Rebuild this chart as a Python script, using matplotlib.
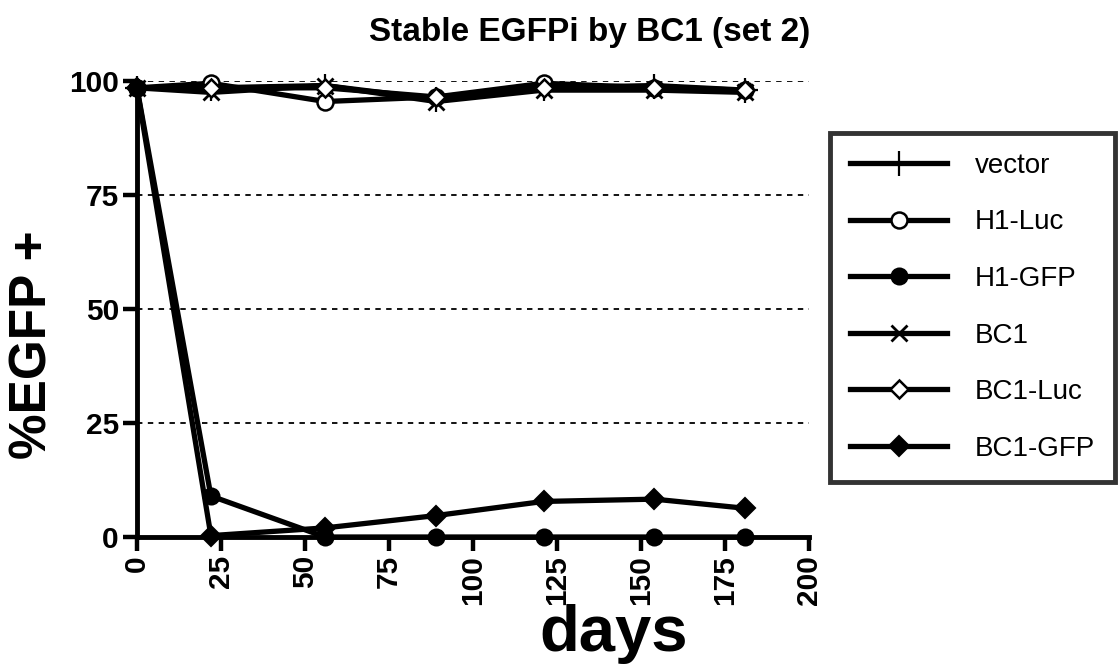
import matplotlib
matplotlib.use("Agg")
import matplotlib.pyplot as plt

plt.rcParams['font.family'] = ['Liberation Sans', 'DejaVu Sans']

days = [0, 22, 56, 89, 121, 154, 181]
vector = [98.5, 98.5, 99, 96, 98.5, 99, 98]
h1_luc = [98.5, 99.5, 95.5, 96.5, 99.5, 98.5, 98]
h1_gfp = [98.5, 9, 0, 0, 0, 0, 0]
bc1 = [98.5, 97.5, 99, 95.5, 98, 98, 97.5]
bc1_luc = [98.5, 98.5, 98.5, 96.5, 98.5, 98.5, 98]
bc1_gfp = [98.5, 0.3, 2, 4.7, 7.8, 8.3, 6.3]
labels = ["vector", "H1-Luc", "H1-GFP", "BC1", "BC1-Luc", "BC1-GFP"]
xticks = [0, 25, 50, 75, 100, 125, 150, 175, 200]
yticks = [0, 25, 50, 75, 100]

fig = plt.figure(figsize=(11.2, 6.71), dpi=100)
ax = fig.add_axes([0.1223, 0.1997, 0.6, 0.6796])

lw = 3.8
styles = [
    dict(marker='+', ms=18, mew=1.6, mfc='black'),
    dict(marker='o', ms=11.5, mew=1.8, mfc='white'),
    dict(marker='o', ms=11.5, mew=1.5, mfc='black'),
    dict(marker='x', ms=12, mew=2.0, mfc='black'),
    dict(marker='D', ms=9, mew=1.8, mfc='white'),
    dict(marker='D', ms=10, mew=1.5, mfc='black'),
]
series = [vector, h1_luc, h1_gfp, bc1, bc1_luc, bc1_gfp]
for s, lab, st in zip(series, labels, styles):
    ax.plot(days, s, color='black', lw=lw, mec='black', label=lab,
            clip_on=False, zorder=3, **st)

ax.set_xlim(0, 200)
ax.set_ylim(0, 100)
ax.set_xticks(xticks)
ax.set_yticks(yticks)
for y in [25, 50, 75, 100]:
    ax.axhline(y, color='black', lw=1.3, ls=(0, (3, 3)), zorder=1)

for sp in ['top', 'right']:
    ax.spines[sp].set_visible(False)
for sp in ['left', 'bottom']:
    ax.spines[sp].set_linewidth(3.5)
ax.tick_params(axis='both', which='major', length=10, width=3.2, direction='out', pad=3)
ax.set_xticklabels([str(t) for t in xticks], rotation=90, fontsize=21.5, fontweight='bold')
ax.set_yticklabels([str(t) for t in yticks], fontsize=21.5, fontweight='bold')

fig.text(590 / 1120, 1 - 33 / 671, "Stable EGFPi by BC1 (set 2)", fontsize=24,
         fontweight='bold', ha='center', va='center')
fig.text(33 / 1120, 1 - 345 / 671, "%EGFP +", fontsize=37, fontweight='bold',
         rotation=90, ha='center', va='center')
fig.text(614 / 1120, 1 - 634 / 671, "days", fontsize=47, fontweight='bold',
         ha='center', va='center')

leg = fig.legend(loc='upper left', bbox_to_anchor=(0.741, 0.802), frameon=True,
                 fancybox=False, edgecolor='black', fontsize=20,
                 handlelength=3.5, labelspacing=1.1, borderpad=0.72,
                 handletextpad=1.0, borderaxespad=0)
leg.get_frame().set_linewidth(3.5)

fig.savefig("out.png", dpi=100)
